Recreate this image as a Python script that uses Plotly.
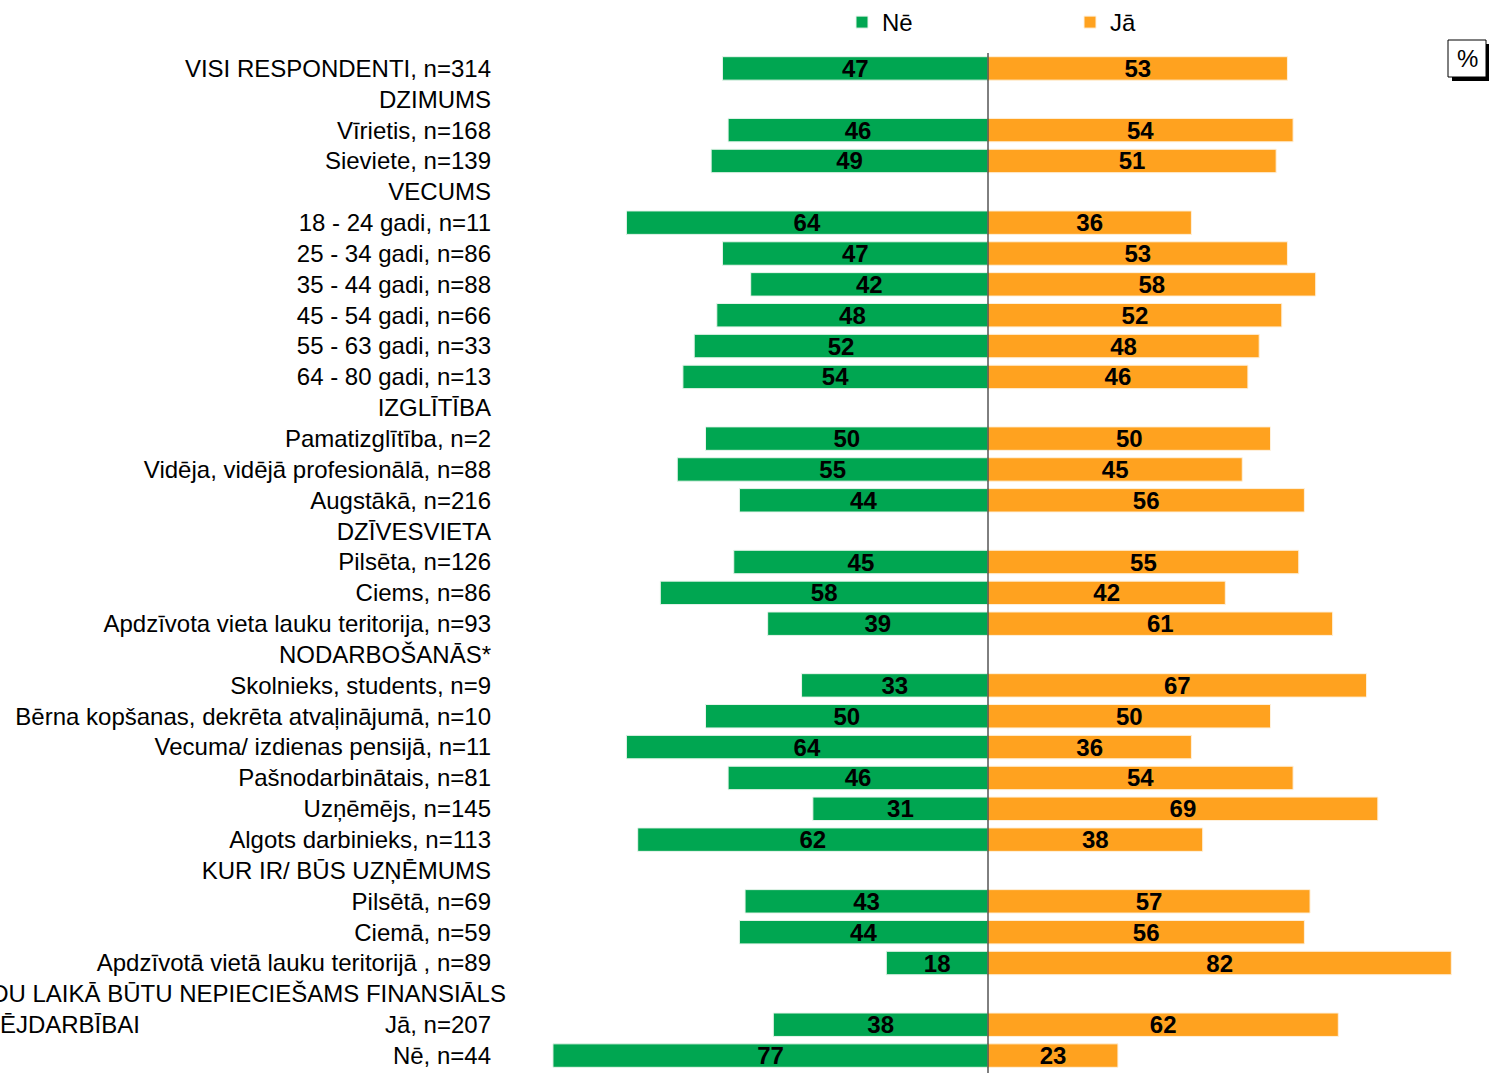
import plotly.graph_objects as go

labels = [
    "VISI RESPONDENTI, n=314", "DZIMUMS", "Vīrietis, n=168", "Sieviete, n=139",
    "VECUMS", "18 - 24 gadi, n=11", "25 - 34 gadi, n=86", "35 - 44 gadi, n=88",
    "45 - 54 gadi, n=66", "55 - 63 gadi, n=33", "64 - 80 gadi, n=13",
    "IZGLĪTĪBA", "Pamatizglītība, n=2", "Vidēja, vidējā profesionālā, n=88",
    "Augstākā, n=216", "DZĪVESVIETA", "Pilsēta, n=126", "Ciems, n=86",
    "Apdzīvota vieta lauku teritorija, n=93", "NODARBOŠANĀS*",
    "Skolnieks, students, n=9", "Bērna kopšanas, dekrēta atvaļinājumā, n=10",
    "Vecuma/ izdienas pensijā, n=11", "Pašnodarbinātais, n=81",
    "Uzņēmējs, n=145", "Algots darbinieks, n=113", "KUR IR/ BŪS UZŅĒMUMS",
    "Pilsētā, n=69", "Ciemā, n=59", "Apdzīvotā vietā lauku teritorijā , n=89",
    "", "Jā, n=207", "Nē, n=44",
]
header_line1 = "VAI TUVĀKO GADU LAIKĀ BŪTU NEPIECIEŠAMS FINANSIĀLS"
header_line2 = "ATBALSTS UZŅĒMĒJDARBĪBAI"

ne = [47, None, 46, 49, None, 64, 47, 42, 48, 52, 54, None, 50, 55, 44, None,
      45, 58, 39, None, 33, 50, 64, 46, 31, 62, None, 43, 44, 18, None, 38, 77]
ja = [53, None, 54, 51, None, 36, 53, 58, 52, 48, 46, None, 50, 45, 56, None,
      55, 42, 61, None, 67, 50, 36, 54, 69, 38, None, 57, 56, 82, None, 62, 23]

rows = list(range(len(labels)))

W, H = 1489, 1073
L, R, T, B = 500, 0, 53, 2
PW, PH = W - L - R, H - T - B


def px_x(p):
    return (p - L) / PW


def px_y(p):
    return 1 - (p - T) / PH


GREEN = "#00A651"
ORANGE = "#FFA21F"
LABEL_SIZE = 24
num_font = dict(family="Liberation Sans Narrow, Arial Narrow, Liberation Sans, Arial",
                size=24, color="black", weight="bold")

fig = go.Figure()
fig.add_trace(go.Bar(
    y=rows, x=[-v if v is not None else None for v in ne], orientation="h",
    name="Nē", marker=dict(color=GREEN, line=dict(color="#E8F5EC", width=1)),
    text=[str(v) if v is not None else "" for v in ne], textposition="inside",
    insidetextanchor="middle", textfont=num_font, constraintext="none",
    textangle=0, hoverinfo="skip",
))
fig.add_trace(go.Bar(
    y=rows, x=ja, orientation="h",
    name="Jā", marker=dict(color=ORANGE, line=dict(color="#FFF1DC", width=1)),
    text=[str(v) if v is not None else "" for v in ja], textposition="inside",
    insidetextanchor="middle", textfont=num_font, constraintext="none",
    textangle=0, hoverinfo="skip",
))

zero_px = 988
scale = 5.65
x_min = -(zero_px - L) / scale
x_max = x_min + PW / scale

fig.update_layout(
    width=W, height=H,
    margin=dict(l=L, r=R, t=T, b=B, pad=0),
    paper_bgcolor="white", plot_bgcolor="white",
    barmode="relative", bargap=0.24,
    font=dict(family="Liberation Sans, Arial, sans-serif", size=LABEL_SIZE, color="black"),
    xaxis=dict(range=[x_min, x_max], visible=False, fixedrange=True),
    yaxis=dict(range=[len(labels) - 0.5, -0.5], tickmode="array", tickvals=rows,
               ticktext=labels, ticks="", showline=False, showgrid=False,
               zeroline=False, ticklabelstandoff=8, fixedrange=True,
               tickfont=dict(size=LABEL_SIZE, color="black")),
    showlegend=True,
    legend=dict(orientation="h", x=px_x(842), y=px_y(22), xanchor="left",
                yanchor="middle", entrywidth=183, entrywidthmode="pixels",
                font=dict(size=LABEL_SIZE, color="black"), bgcolor="rgba(0,0,0,0)",
                traceorder="normal", itemclick=False, itemdoubleclick=False),
    shapes=[
        dict(type="line", xref="x", yref="paper", x0=0, x1=0, y0=px_y(1073), y1=1,
             line=dict(color="black", width=1)),
        dict(type="rect", xref="paper", yref="paper", x0=px_x(1452), x1=px_x(1490),
             y0=px_y(81), y1=px_y(44), fillcolor="black", line=dict(width=0)),
        dict(type="rect", xref="paper", yref="paper", x0=px_x(1448), x1=px_x(1486),
             y0=px_y(77), y1=px_y(40), fillcolor="white",
             line=dict(color="black", width=1)),
    ],
    annotations=[
        dict(text="%", xref="paper", yref="paper", x=px_x(1467), y=px_y(58),
             xanchor="center", yanchor="middle", showarrow=False,
             font=dict(size=LABEL_SIZE, color="black")),
        dict(text=header_line1, xref="paper", yref="y", x=px_x(508), y=30,
             xanchor="right", yanchor="middle", showarrow=False,
             font=dict(size=LABEL_SIZE, color="black")),
        dict(text=header_line2, xref="paper", yref="y", x=px_x(142), y=31,
             xanchor="right", yanchor="middle", showarrow=False,
             font=dict(size=LABEL_SIZE, color="black")),
    ],
)

fig.write_html("out.html", config={"displayModeBar": False},
               post_script="document.body.style.margin='0px';")
